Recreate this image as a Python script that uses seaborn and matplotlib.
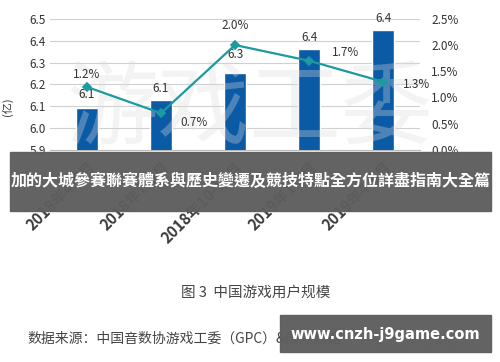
import numpy as np
import pandas as pd
import seaborn as sns
import matplotlib.pyplot as plt
from matplotlib.patches import Rectangle

# data
quarters = ["2018年4-6月", "2018年7-9月", "2018年10-12月", "2019年1-3月", "2019年4-6月"]
users = [6.09, 6.13, 6.25, 6.36, 6.45]          # 亿
user_labels = ["6.1", "6.1", "6.3", "6.4", "6.4"]
growth = [1.2, 0.7, 2.0, 1.7, 1.3]              # %

df = pd.DataFrame({"quarter": quarters, "users": users, "growth": growth})

sns.set_style("white")
plt.rcParams['font.family'] = ['Noto Sans CJK SC', 'DejaVu Sans']

bar_color = "#0b5aa6"
line_color = "#1b9aa0"
text_color = "#333333"

fig = plt.figure(figsize=(5, 3.62), dpi=100)
ax = fig.add_axes([0.10, 0.586, 0.74, 0.362])

sns.barplot(data=df, x="quarter", y="users", color=bar_color, width=0.3,
            saturation=1, ax=ax, zorder=3)
ax.set_ylim(5.9, 6.5)
ax.set_yticks(np.arange(5.9, 6.51, 0.1))
ax.set_yticklabels([f"{v:.1f}" for v in np.arange(5.9, 6.51, 0.1)],
                   fontsize=8.5, color=text_color)
ax.yaxis.grid(True, color="#d0d0d0", linewidth=0.8, zorder=0)
ax.set_axisbelow(True)
ax.set_xlabel("")
ax.set_ylabel("(亿)", fontsize=8, color=text_color)
ax.yaxis.set_label_coords(-0.1, 0.33)
ax.set_xticks(range(len(quarters)))
ax.set_xticklabels(quarters, rotation=45, ha="right", rotation_mode="anchor",
                   fontsize=11, color="#3a3a3a", fontweight="bold")
ax.tick_params(axis="x", length=0, pad=6)
ax.tick_params(axis="y", length=0, pad=3)
for s in ["top", "left", "right"]:
    ax.spines[s].set_visible(False)
ax.spines["bottom"].set_color("#bbbbbb")
ax.set_xlim(-0.5, len(quarters) - 0.5)

# faint watermark: above the bars, below the labels
ax.text(0.50, 1 - 112 / 362, "游戏工委", ha="center", va="center", fontsize=66,
        color="#dcdcdc", alpha=0.32, fontweight="light", zorder=4,
        transform=fig.transFigure, clip_on=False)

offsets = [0.035, 0.02, 0.055, 0.025, 0.02]
for i, (v, lab) in enumerate(zip(users, user_labels)):
    ax.text(i, v + offsets[i], lab, ha="center", va="bottom", fontsize=8.5,
            color=text_color, zorder=6)

ax2 = ax.twinx()
sns.pointplot(data=df, x="quarter", y="growth", color=line_color, markers="D",
              linestyles="-", linewidth=1.6, markersize=4.5, ax=ax2)
ax2.set_ylim(0, 2.5)
ax2.set_yticks(np.arange(0, 2.51, 0.5))
ax2.set_yticklabels([f"{v:.1f}%" for v in np.arange(0, 2.51, 0.5)],
                    fontsize=8.5, color=text_color)
ax2.tick_params(axis="y", length=0, pad=8)
ax2.set_ylabel("")
ax2.set_xlabel("")
ax2.set_xlim(-0.5, len(quarters) - 0.5)
for s in ax2.spines.values():
    s.set_visible(False)

gpos = [(0, 0.12, "center", "bottom"), (0.45, -0.05, "center", "top"),
        (0, 0.25, "center", "bottom"), (0.5, 0.15, "center", "center"),
        (0.45, -0.05, "center", "center")]
for i, (g, (dx, dy, ha, va)) in enumerate(zip(growth, gpos)):
    ax2.text(i + dx, g + dy, f"{g:.1f}%", ha=ha, va=va, fontsize=8.5,
             color=text_color)

# overlay banner
fig.patches.append(Rectangle((0.02, 1 - 211 / 362), 0.962, 59 / 362,
                             transform=fig.transFigure, color="#5e5e5e",
                             alpha=0.97, zorder=20))
fig.text(0.501, 1 - 181 / 362, "加的大城參賽聯賽體系與歷史變遷及競技特點全方位詳盡指南大全篇",
         ha="center", va="center", fontsize=11.5, color="white",
         fontweight="bold", family=['Noto Sans CJK TC', 'DejaVu Sans'], zorder=21)

fig.text(0.512, 1 - 293 / 362, "图 3  中国游戏用户规模", ha="center", va="center",
         fontsize=10.5, color="#444444")
fig.text(0.054, 1 - 339 / 362, "数据来源：中国音数协游戏工委（GPC）&国际数据", ha="left",
         va="center", fontsize=10, color="#444444")
fig.text(0.82, 1 - 344 / 362, "中国游戏产业报告", ha="center", va="center",
         fontsize=9, color="#999999", alpha=0.6)

fig.patches.append(Rectangle((0.56, 1 - 352 / 362), 0.422, 37 / 362,
                             transform=fig.transFigure, color="#5e5e5e",
                             alpha=0.97, zorder=20))
fig.text(0.771, 1 - 334 / 362, "www.cnzh-j9game.com", ha="center", va="center",
         fontsize=10.5, color="white", fontweight="bold",
         family=['DejaVu Sans'], zorder=21)

fig.savefig("out.png", dpi=100)
